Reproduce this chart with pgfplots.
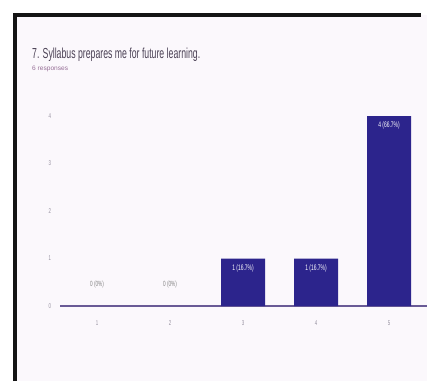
\documentclass[border=0pt]{standalone}
\usepackage{pgfplots}
\pgfplotsset{compat=1.18}
\usepackage{fontspec}
\setmainfont{Liberation Sans}
\newfontfamily\cond[FakeStretch=0.62]{Liberation Sans}
\definecolor{barblue}{RGB}{44,36,140}
\definecolor{bgtint}{RGB}{251,248,252}
\definecolor{titlegray}{RGB}{75,65,85}
\definecolor{respcol}{RGB}{150,110,150}
\definecolor{ticklab}{RGB}{150,145,160}
\definecolor{baseline}{RGB}{105,90,150}
\begin{document}
\begin{tikzpicture}[x=1pt,y=1pt]
\path[use as bounding box] (0,0) rectangle (427,381);
\fill[white] (0,0) rectangle (427,381);
\fill[bgtint] (15,0) rectangle (427,366);
\node[anchor=base west, inner sep=0, text=titlegray] at (32,323) {\resizebox{168pt}{10.5pt}{7. Syllabus prepares me for future learning.}};
\node[anchor=base west, inner sep=0, text=respcol] at (32,311) {\resizebox{36pt}{4.5pt}{6 responses}};
\begin{axis}[
  at={(60pt,75pt)}, anchor=south west,
  scale only axis, width=367pt, height=190pt,
  xmin=0.4932, xmax=5.5205, ymin=0, ymax=4,
  enlargelimits=false, clip=false,
  axis x line=bottom, axis y line=left,
  axis line style={-},
  x axis line style={draw=baseline, line width=1.3pt},
  y axis line style={draw=none},
  tick style={draw=none},
  xtick={1,2,3,4,5}, ytick={0,1,2,3,4},
  /pgf/number format/assume math mode=true,
  ticklabel style={font=\cond\fontsize{7}{8}\selectfont, text=ticklab},
  xticklabel style={anchor=center, yshift=-15pt},
  yticklabel style={anchor=center, xshift=-8pt},
]
\addplot[ybar, fill=barblue, draw=none, bar width=44pt, bar shift=0pt,
  nodes near coords, point meta=explicit symbolic,
  nodes near coords style={anchor=center, yshift=-9.5pt, text=white, font=\cond\fontsize{8}{9}\selectfont}]
  coordinates {(3,1) [1 (16.7\%)] (4,1) [1 (16.7\%)] (5,4) [4 (66.7\%)]};
\addplot[draw=none, mark=none,
  nodes near coords, point meta=explicit symbolic,
  nodes near coords style={anchor=center, yshift=21pt, text=gray, font=\cond\fontsize{7.5}{9}\selectfont}]
  coordinates {(1,0) [0 (0\%)] (2,0) [0 (0\%)]};
\end{axis}
\draw[line width=4pt, black!92] (15,0) -- (15,366) -- (421,366);
\end{tikzpicture}
\end{document}
